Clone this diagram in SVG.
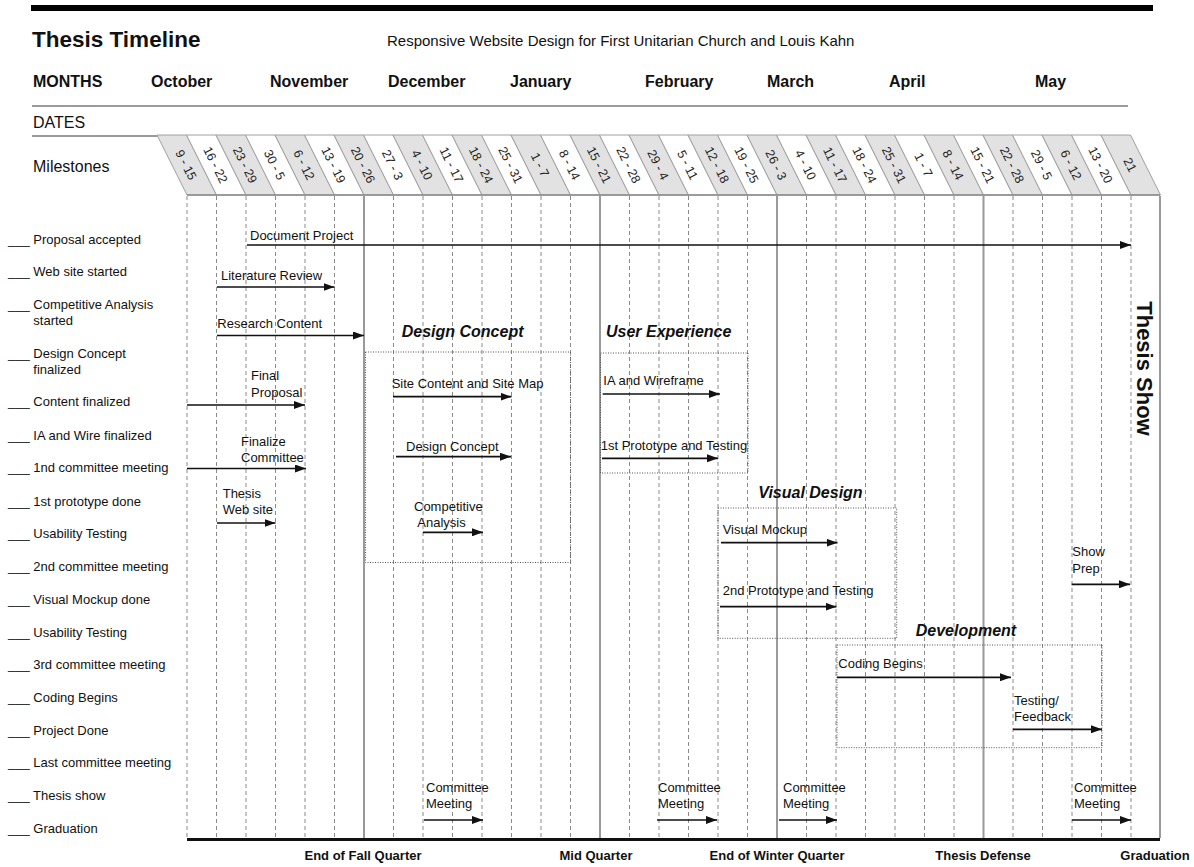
<svg xmlns="http://www.w3.org/2000/svg" xmlns:xlink="http://www.w3.org/1999/xlink" width="1194" height="867" viewBox="0 0 1194 867">
<style>
text{font-family:"Liberation Sans",Arial,sans-serif;fill:#111;}
.t13{font-size:13px;}
.lbl{font-size:13px;}
.mon{font-size:16px;font-weight:bold;}
.phase{font-size:16px;font-weight:bold;font-style:italic;}
.foot{font-size:13px;font-weight:bold;text-anchor:middle;}
.tabt{font-size:12.5px;text-anchor:middle;dominant-baseline:central;fill:#222;}
.tg{fill:#e2e2e2;stroke:#a0a0a0;stroke-width:1;}
.tw{fill:#ffffff;stroke:#a0a0a0;stroke-width:1;}
.dash{stroke:#8a8a8a;stroke-width:1;stroke-dasharray:4 3;fill:none;}
.solid{stroke:#9a9a9a;stroke-width:2;fill:none;}
.rule{stroke:#9a9a9a;stroke-width:2;fill:none;}
.box{fill:none;stroke:#555;stroke-width:1;stroke-dasharray:1 1.5;}
.arr{stroke:#111;stroke-width:1.7;fill:none;marker-end:url(#ah);}
</style>
<defs>
<marker id="ah" viewBox="0 0 11 8" refX="11" refY="4" markerWidth="11" markerHeight="8" markerUnits="userSpaceOnUse" orient="auto">
<path d="M0,0 L11,4 L0,8 z" fill="#111"/>
</marker>
<polygon id="tab" points="0,0 29.5,0 59.5,60 30,60"/>
</defs>
<rect width="1194" height="867" fill="#ffffff"/>

<g id="header">
<rect x="31" y="5" width="1122" height="6" fill="#000"/>
<text x="32" y="47" style="font-size:22.5px;font-weight:bold;">Thesis Timeline</text>
<text x="387" y="46" style="font-size:15px;">Responsive Website Design for First Unitarian Church and Louis Kahn</text>
<text class="mon" x="33" y="87">MONTHS</text>
<text class="mon" x="151" y="87">October</text>
<text class="mon" x="270" y="87">November</text>
<text class="mon" x="388" y="87">December</text>
<text class="mon" x="510" y="87">January</text>
<text class="mon" x="645" y="87">February</text>
<text class="mon" x="767" y="87">March</text>
<text class="mon" x="889" y="87">April</text>
<text class="mon" x="1035" y="87">May</text>
<line class="rule" x1="32" y1="106" x2="1128" y2="106"/>
<text x="33" y="128" style="font-size:16px;">DATES</text>
<line class="rule" x1="32" y1="136" x2="1128" y2="136"/>
<text x="33" y="172" style="font-size:16px;">Milestones</text>
</g>

<g id="dates">
<g transform="translate(157,135)"><use xlink:href="#tab" class="tg"/><text class="tabt" transform="translate(28.75,30) rotate(63.43)">9 - 15</text></g>
<g transform="translate(186.5,135)"><use xlink:href="#tab" class="tw"/><text class="tabt" transform="translate(28.75,30) rotate(63.43)">16 - 22</text></g>
<g transform="translate(216,135)"><use xlink:href="#tab" class="tg"/><text class="tabt" transform="translate(28.75,30) rotate(63.43)">23 - 29</text></g>
<g transform="translate(245.5,135)"><use xlink:href="#tab" class="tw"/><text class="tabt" transform="translate(28.75,30) rotate(63.43)">30 - 5</text></g>
<g transform="translate(275,135)"><use xlink:href="#tab" class="tg"/><text class="tabt" transform="translate(28.75,30) rotate(63.43)">6 - 12</text></g>
<g transform="translate(304.5,135)"><use xlink:href="#tab" class="tw"/><text class="tabt" transform="translate(28.75,30) rotate(63.43)">13 - 19</text></g>
<g transform="translate(334,135)"><use xlink:href="#tab" class="tg"/><text class="tabt" transform="translate(28.75,30) rotate(63.43)">20 - 26</text></g>
<g transform="translate(363.5,135)"><use xlink:href="#tab" class="tw"/><text class="tabt" transform="translate(28.75,30) rotate(63.43)">27 - 3</text></g>
<g transform="translate(393,135)"><use xlink:href="#tab" class="tg"/><text class="tabt" transform="translate(28.75,30) rotate(63.43)">4 - 10</text></g>
<g transform="translate(422.5,135)"><use xlink:href="#tab" class="tw"/><text class="tabt" transform="translate(28.75,30) rotate(63.43)">11 - 17</text></g>
<g transform="translate(452,135)"><use xlink:href="#tab" class="tg"/><text class="tabt" transform="translate(28.75,30) rotate(63.43)">18 - 24</text></g>
<g transform="translate(481.5,135)"><use xlink:href="#tab" class="tw"/><text class="tabt" transform="translate(28.75,30) rotate(63.43)">25 - 31</text></g>
<g transform="translate(511,135)"><use xlink:href="#tab" class="tg"/><text class="tabt" transform="translate(28.75,30) rotate(63.43)">1 - 7</text></g>
<g transform="translate(540.5,135)"><use xlink:href="#tab" class="tw"/><text class="tabt" transform="translate(28.75,30) rotate(63.43)">8 - 14</text></g>
<g transform="translate(570,135)"><use xlink:href="#tab" class="tg"/><text class="tabt" transform="translate(28.75,30) rotate(63.43)">15 - 21</text></g>
<g transform="translate(599.5,135)"><use xlink:href="#tab" class="tw"/><text class="tabt" transform="translate(28.75,30) rotate(63.43)">22 - 28</text></g>
<g transform="translate(629,135)"><use xlink:href="#tab" class="tg"/><text class="tabt" transform="translate(28.75,30) rotate(63.43)">29 - 4</text></g>
<g transform="translate(658.5,135)"><use xlink:href="#tab" class="tw"/><text class="tabt" transform="translate(28.75,30) rotate(63.43)">5 - 11</text></g>
<g transform="translate(688,135)"><use xlink:href="#tab" class="tg"/><text class="tabt" transform="translate(28.75,30) rotate(63.43)">12 - 18</text></g>
<g transform="translate(717.5,135)"><use xlink:href="#tab" class="tw"/><text class="tabt" transform="translate(28.75,30) rotate(63.43)">19 - 25</text></g>
<g transform="translate(747,135)"><use xlink:href="#tab" class="tg"/><text class="tabt" transform="translate(28.75,30) rotate(63.43)">26 - 3</text></g>
<g transform="translate(776.5,135)"><use xlink:href="#tab" class="tw"/><text class="tabt" transform="translate(28.75,30) rotate(63.43)">4 - 10</text></g>
<g transform="translate(806,135)"><use xlink:href="#tab" class="tg"/><text class="tabt" transform="translate(28.75,30) rotate(63.43)">11 - 17</text></g>
<g transform="translate(835.5,135)"><use xlink:href="#tab" class="tw"/><text class="tabt" transform="translate(28.75,30) rotate(63.43)">18 - 24</text></g>
<g transform="translate(865,135)"><use xlink:href="#tab" class="tg"/><text class="tabt" transform="translate(28.75,30) rotate(63.43)">25 - 31</text></g>
<g transform="translate(894.5,135)"><use xlink:href="#tab" class="tw"/><text class="tabt" transform="translate(28.75,30) rotate(63.43)">1 - 7</text></g>
<g transform="translate(924,135)"><use xlink:href="#tab" class="tg"/><text class="tabt" transform="translate(28.75,30) rotate(63.43)">8 - 14</text></g>
<g transform="translate(953.5,135)"><use xlink:href="#tab" class="tw"/><text class="tabt" transform="translate(28.75,30) rotate(63.43)">15 - 21</text></g>
<g transform="translate(983,135)"><use xlink:href="#tab" class="tg"/><text class="tabt" transform="translate(28.75,30) rotate(63.43)">22 - 28</text></g>
<g transform="translate(1012.5,135)"><use xlink:href="#tab" class="tw"/><text class="tabt" transform="translate(28.75,30) rotate(63.43)">29 - 5</text></g>
<g transform="translate(1042,135)"><use xlink:href="#tab" class="tg"/><text class="tabt" transform="translate(28.75,30) rotate(63.43)">6 - 12</text></g>
<g transform="translate(1071.5,135)"><use xlink:href="#tab" class="tw"/><text class="tabt" transform="translate(28.75,30) rotate(63.43)">13 - 20</text></g>
<g transform="translate(1101,135)"><use xlink:href="#tab" class="tg"/><text class="tabt" transform="translate(28.75,30) rotate(63.43)">21</text></g>
<line x1="187" y1="195" x2="1160" y2="195" stroke="#8a8a8a" stroke-width="1.5"/>
</g>

<g id="grid">
<path class="dash" d="M187 196V838M216.5 196V838M246 196V838M275.5 196V838M305 196V838M334.5 196V838M393.5 196V838M423 196V838M452.5 196V838M482 196V838M511.5 196V838M541 196V838M570.5 196V838M629.5 196V838M659 196V838M688.5 196V838M718 196V838M747.5 196V838M806.5 196V838M836 196V838M865.5 196V838M895 196V838M924.5 196V838M954 196V838M1013 196V838M1042.5 196V838M1072 196V838M1101.5 196V838M1131 196V838"/>
<path class="solid" d="M364 196V838M600 196V838M777 196V838M983.5 196V838M1160 196V838"/>
<line x1="187" y1="839.5" x2="1160" y2="839.5" stroke="#111" stroke-width="3"/>
</g>

<g id="milestones" class="lbl">
<text x="8" y="244">___ Proposal accepted</text>
<text x="8" y="276">___ Web site started</text>
<text x="8" y="309">___ Competitive Analysis</text>
<text x="33.3" y="325">started</text>
<text x="8" y="358">___ Design Concept</text>
<text x="33.3" y="374">finalized</text>
<text x="8" y="406">___ Content finalized</text>
<text x="8" y="440">___ IA and Wire finalized</text>
<text x="8" y="472">___ 1nd committee meeting</text>
<text x="8" y="506">___ 1st prototype done</text>
<text x="8" y="538">___ Usability Testing</text>
<text x="8" y="571">___ 2nd committee meeting</text>
<text x="8" y="604">___ Visual Mockup done</text>
<text x="8" y="637">___ Usability Testing</text>
<text x="8" y="669">___ 3rd committee meeting</text>
<text x="8" y="702">___ Coding Begins</text>
<text x="8" y="735">___ Project Done</text>
<text x="8" y="767">___ Last committee meeting</text>
<text x="8" y="800">___ Thesis show</text>
<text x="8" y="833">___ Graduation</text>
</g>

<g id="phase-design-concept">
<rect class="box" x="365.5" y="352" width="205" height="210.5"/>
<text class="phase" x="401.7" y="337">Design Concept</text>
</g>
<g id="phase-user-experience">
<rect class="box" x="600.5" y="353" width="147.5" height="120"/>
<text class="phase" x="606" y="337">User Experience</text>
</g>
<g id="phase-visual-design">
<rect class="box" x="718" y="508" width="178.7" height="130.3"/>
<text class="phase" x="758.3" y="498">Visual Design</text>
</g>
<g id="phase-development">
<rect class="box" x="837" y="645" width="265" height="102.7"/>
<text class="phase" x="915.7" y="636">Development</text>
</g>

<g id="task-labels" class="t13">
<g id="t-document"><text x="250" y="239.5">Document Project</text></g>
<g id="t-literature"><text x="221" y="280">Literature Review</text></g>
<g id="t-research"><text x="217.3" y="328">Research Content</text></g>
<g id="t-final"><text x="251" y="380">Final</text><text x="251" y="397">Proposal</text></g>
<g id="t-finalize"><text x="241" y="445.5">Finalize</text><text x="241" y="462">Committee</text></g>
<g id="t-website"><text x="222.7" y="497.5">Thesis</text><text x="222.7" y="514">Web site</text></g>
<g id="t-sitecontent"><text x="391.7" y="388">Site Content and Site Map</text></g>
<g id="t-designconcept"><text x="406" y="450.5">Design Concept</text></g>
<g id="t-competitive"><text x="414" y="510.5">Competitive</text><text x="417.3" y="526.5">Analysis</text></g>
<g id="t-ia"><text x="603.3" y="384.5">IA and Wireframe</text></g>
<g id="t-proto1"><text x="600.7" y="449.5">1st Prototype and Testing</text></g>
<g id="t-mockup"><text x="722.7" y="533.5">Visual Mockup</text></g>
<g id="t-proto2"><text x="722.7" y="595">2nd Prototype and Testing</text></g>
<g id="t-showprep"><text x="1072.3" y="556">Show</text><text x="1072.3" y="573">Prep</text></g>
<g id="t-coding"><text x="838.3" y="668">Coding Begins</text></g>
<g id="t-testing"><text x="1014" y="704.5">Testing/</text><text x="1014" y="721">Feedback</text></g>
<g id="t-cm1"><text x="426" y="792">Committee</text><text x="426" y="808">Meeting</text></g>
<g id="t-cm2"><text x="658" y="792">Committee</text><text x="658" y="808">Meeting</text></g>
<g id="t-cm3"><text x="783" y="792">Committee</text><text x="783" y="808">Meeting</text></g>
<g id="t-cm4"><text x="1074" y="792">Committee</text><text x="1074" y="808">Meeting</text></g>
</g>

<g id="connectors">
<path class="arr" d="M247 245H1131"/>
<path class="arr" d="M217 287H334.5"/>
<path class="arr" d="M217 335.5H364"/>
<path class="arr" d="M187 405H305"/>
<path class="arr" d="M187 468.5H306"/>
<path class="arr" d="M217 523H275.5"/>
<path class="arr" d="M393 396.7H511.5"/>
<path class="arr" d="M396 456.7H511"/>
<path class="arr" d="M423 532.3H483"/>
<path class="arr" d="M602.7 394H720"/>
<path class="arr" d="M602 458.3H718"/>
<path class="arr" d="M721 542.7H837.5"/>
<path class="arr" d="M720 606.7H836.5"/>
<path class="arr" d="M1071.7 584.3H1130"/>
<path class="arr" d="M837 677.3H1011"/>
<path class="arr" d="M1013 729.3H1102"/>
<path class="arr" d="M424 820H483"/>
<path class="arr" d="M657 820H717"/>
<path class="arr" d="M779 820H837"/>
<path class="arr" d="M1072 820H1131"/>
</g>

<g id="thesis-show">
<text transform="rotate(90 1137 368.5)" x="1137" y="368.5" style="font-size:22px;font-weight:bold;text-anchor:middle;">Thesis Show</text>
</g>

<g id="footer">
<text class="foot" x="363" y="860">End of Fall Quarter</text>
<text class="foot" x="596" y="860">Mid Quarter</text>
<text class="foot" x="777" y="860">End of Winter Quarter</text>
<text class="foot" x="983" y="860">Thesis Defense</text>
<text class="foot" x="1155" y="860">Graduation</text>
</g>
</svg>
